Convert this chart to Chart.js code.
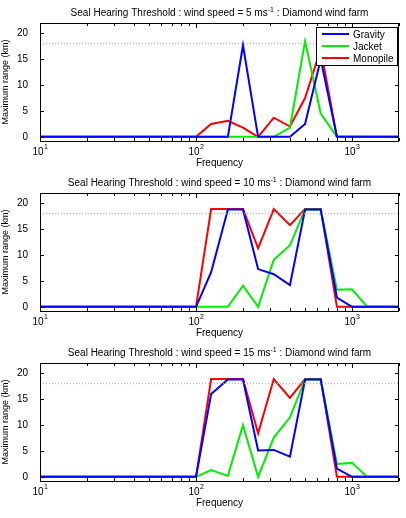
<!DOCTYPE html>
<html><head><meta charset="utf-8">
<script src="https://cdn.jsdelivr.net/npm/chart.js@4"></script>
<style>body{margin:0;background:#fff;width:406px;height:518px;overflow:hidden}
.p{position:absolute;left:0;width:406px;height:172px}</style></head>
<body>
<div class="p" style="top:0"><canvas id="c0" width="406" height="172"></canvas></div>
<div class="p" style="top:170px"><canvas id="c1" width="406" height="172"></canvas></div>
<div class="p" style="top:340px"><canvas id="c2" width="406" height="172"></canvas></div>
<script>
const freqs=[10,12.5,16,20,25,31.5,40,50,63,80,100,125,160,200,250,315,400,500,630,800,1000,1250,1600,2000];
const windSpeeds=[5,10,15];
const seriesNames=['Gravity','Jacket','Monopile'];
const colors=['#0000ff','#00ee00','#ff0000'];
const z10=[0,0,0,0,0,0,0,0,0,0];
const gravity5 =[...z10,0,0,0,17.7,0,0,0,2.5,15,0,0,0,0,0];
const jacket5  =[...z10,0,0,0,0,0,0,1.8,18.5,4.5,0,0,0,0,0];
const monopile5=[...z10,0,2.5,3.1,1.8,0,3.7,2,7.5,17,0,0,0,0,0];
const gravity10 =[...z10,0,6.7,18.8,18.8,7.3,6.3,4.2,18.8,18.8,1.8,0,0,0,0];
const jacket10  =[...z10,0,0,0,4.1,0,9.1,11.9,18.8,18.8,3.3,3.4,0,0,0];
const monopile10=[...z10,0,18.9,18.9,18.9,11.3,18.9,15.8,18.9,18.9,0,0,0,0,0];
const gravity15 =[...z10,0,16,18.8,18.8,5.1,5.2,3.9,18.8,18.8,1.6,0,0,0,0];
const jacket15  =[...z10,0,1.3,0.2,10,0,7.6,11.5,18.8,18.8,2.5,2.7,0,0,0];
const monopile15=[...z10,0,18.9,18.9,18.9,8.4,18.9,15.25,18.9,18.9,0,0,0,0,0];
const data=[[gravity5,jacket5,monopile5],[gravity10,jacket10,monopile10],[gravity15,jacket15,monopile15]];
const yTicks=[0,5,10,15,20];
const thresh=18;
const F='Arial, "Liberation Sans", sans-serif';

const deco={id:'deco',afterDraw(ch,a,o){
  const c=ch.ctx,ar=ch.chartArea,x=ch.scales.x,y=ch.scales.y;
  c.save();
  c.strokeStyle='#aaa';c.lineWidth=1;c.setLineDash([1,2]);
  c.beginPath();c.moveTo(ar.left,y.getPixelForValue(thresh));c.lineTo(ar.right,y.getPixelForValue(thresh));c.stroke();
  c.setLineDash([]);
  c.strokeStyle='#000';c.lineWidth=1;
  c.strokeRect(ar.left+0.5,ar.top+0.5,ar.right-ar.left-1,ar.bottom-ar.top);
  c.beginPath();
  for(let d=10;d<=1000;d*=10)for(let m=1;m<10;m++){const v=d*m;if(v>2000)break;
    const px=Math.round(x.getPixelForValue(v))+0.5;const L=(m===1)?5:3;
    c.moveTo(px,ar.bottom);c.lineTo(px,ar.bottom-L);c.moveTo(px,ar.top);c.lineTo(px,ar.top+L);}
  yTicks.forEach(v=>{const py=Math.round(y.getPixelForValue(v))+0.5;
    c.moveTo(ar.left,py);c.lineTo(ar.left+4,py);c.moveTo(ar.right,py);c.lineTo(ar.right-4,py);});
  c.stroke();
  c.fillStyle='#000';
  [10,100,1000].forEach((v,i)=>{const px=x.getPixelForValue(v);
    c.font='10px '+F;c.textAlign='center';c.textBaseline='top';c.fillText('10',px-2,ar.bottom+6);
    c.font='7px '+F;c.textAlign='left';c.fillText(String(i+1),px+4,ar.bottom+3);});
  c.font='10px '+F;c.textAlign='center';c.fillText('Frequency',(ar.left+ar.right)/2,ar.bottom+17);
  const tx=(ar.left+ar.right)/2;c.textBaseline='alphabetic';
  const t1='Seal Hearing Threshold : wind speed = '+o.ws+' ms',t2=' : Diamond wind farm';
  c.font='10px '+F;const w1=c.measureText(t1).width;c.font='7px '+F;const ws=c.measureText('-1').width;
  c.font='10px '+F;const w2=c.measureText(t2).width;const x0=tx-(w1+ws+w2)/2;
  c.textAlign='left';c.fillText(t1,x0,ar.top-7);c.font='7px '+F;c.fillText('-1',x0+w1,ar.top-11);
  c.font='10px '+F;c.fillText(t2,x0+w1+ws,ar.top-7);
  if(o.legend){const lx=ar.right-83,ly=ar.top+4,lw=81,lh=38;
    c.fillStyle='#fff';c.fillRect(lx,ly,lw,lh);c.strokeStyle='#000';c.strokeRect(lx+0.5,ly+0.5,lw,lh);
    seriesNames.forEach((n,i)=>{const yy=ly+7+i*12;c.strokeStyle=colors[i];c.lineWidth=2;
      c.beginPath();c.moveTo(lx+6,yy);c.lineTo(lx+33,yy);c.stroke();
      c.fillStyle='#000';c.font='10px '+F;c.textBaseline='middle';c.fillText(n,lx+37,yy+1);});}
  c.restore();}};

windSpeeds.forEach((ws,k)=>{
  new Chart(document.getElementById('c'+k),{type:'line',
    data:{labels:freqs,datasets:seriesNames.map((n,i)=>({label:n,data:freqs.map((f,j)=>({x:f,y:data[k][i][j]})),
      borderColor:colors[i],borderWidth:2,pointRadius:0,tension:0}))},
    options:{responsive:false,animation:false,events:[],
      layout:{padding:{top:23,right:7,bottom:0,left:0}},
      plugins:{legend:{display:false},tooltip:{enabled:false},deco:{ws:ws,legend:k===0}},
      scales:{
        x:{type:'logarithmic',min:10,max:2000,grid:{display:false},border:{display:false},
          ticks:{display:false},afterFit:s=>{s.height=31;}},
        y:{min:-0.8,max:22,grid:{display:false},border:{display:false},
          afterBuildTicks:s=>{s.ticks=yTicks.map(v=>({value:v}));},
          ticks:{color:'#000',font:{size:10,family:F},padding:4},
          title:{display:true,text:'Maximum range (km)',color:'#000',font:{size:9,family:F},padding:0},
          afterFit:s=>{s.width=40;}}}},
    plugins:[deco]});
});
</script></body></html>
